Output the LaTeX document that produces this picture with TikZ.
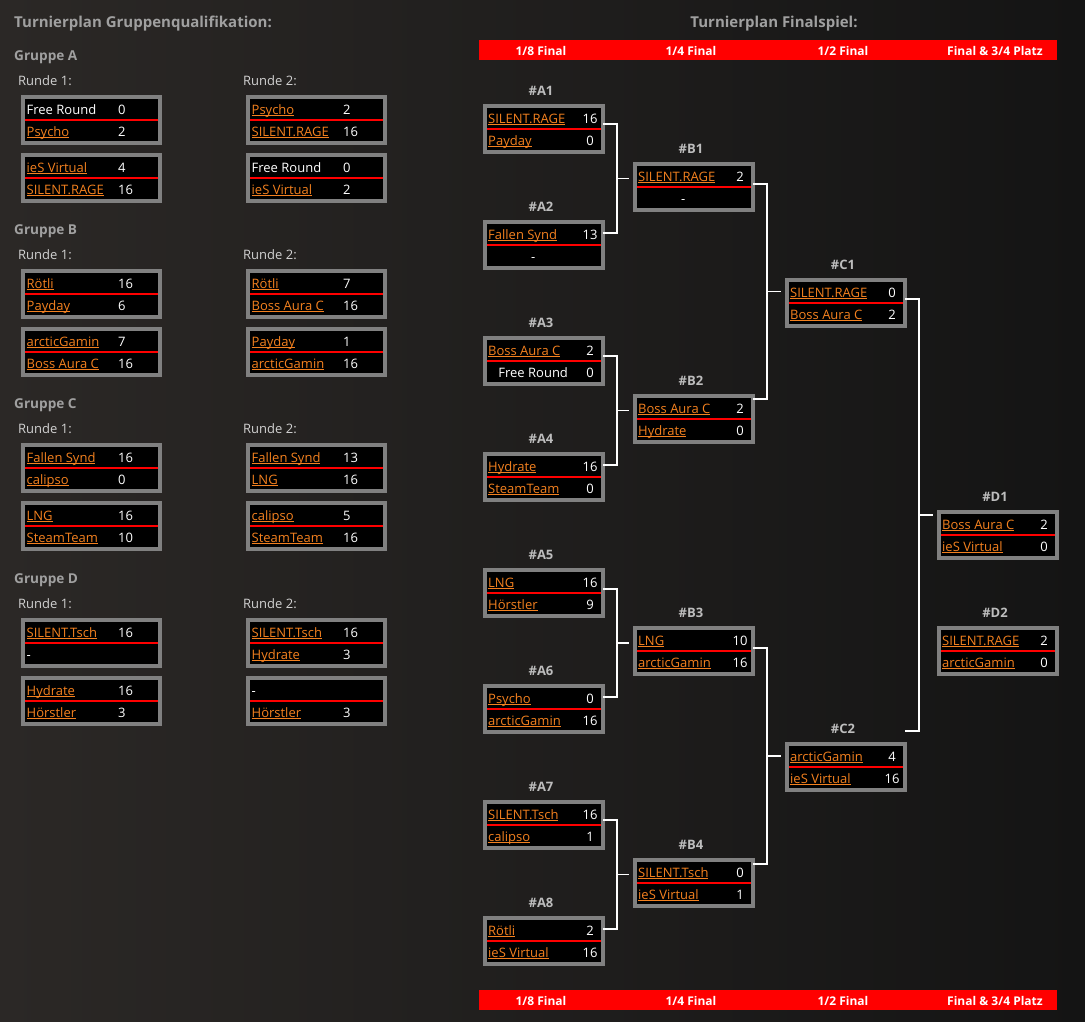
\documentclass[tikz,border=0pt]{standalone}
\usepackage{fontspec}
\setmainfont{Open Sans}
\usetikzlibrary{positioning, calc}

\definecolor{hglinks}{HTML}{2B2826}
\definecolor{hgrechts}{HTML}{141414}
\definecolor{rahmen}{HTML}{808080}
\definecolor{rot}{HTML}{FF0000}
\definecolor{linkorange}{HTML}{F4811F}
\definecolor{titelgrau}{HTML}{A0A0A0}
\definecolor{hellgrau}{HTML}{D2D2D2}
\definecolor{nummergrau}{HTML}{BDBDBD}

% team names are underlined links
\newcommand{\team}[1]{\textcolor{linkorange}{\setbox0\hbox{#1}\rlap{\rule[-2.3pt]{\wd0}{1pt}}\box0}}
\newcommand{\frei}[1]{\makebox[90pt]{#1}}

% name, left, top, team1, score1, team2, score2
\newcommand{\gruppenspiel}[7]{%
  \node[spiel, minimum width=137pt] (#1) at (#2+70.5,#3+25) {};
  \draw[trenner] ($(#1.west)+(4,0)$) -- ($(#1.east)+(-4,0)$);
  \node[mann, anchor=base west] (#1a) at (#2+5.5,#3+19) {#4};
  \node[zahl, anchor=base west] (#1b) at (#2+97,#3+19) {#5};
  \node[mann, anchor=base west] (#1c) at (#2+5.5,#3+41) {#6};
  \node[zahl, anchor=base west] (#1d) at (#2+97,#3+41) {#7};
}
\newcommand{\finalspiel}[7]{%
  \node[spiel, minimum width=118pt] (#1) at (#2+61,#3+25) {};
  \node[nummer, anchor=base] (#1h) at (#2+58,#3-9) {\##1};
  \draw[trenner] ($(#1.west)+(4,0)$) -- ($(#1.east)+(-4,0)$);
  \node[mann, anchor=base west] (#1a) at (#2+5,#3+19) {#4};
  \node[zahl, anchor=base] (#1b) at (#2+107,#3+19) {#5};
  \node[mann, anchor=base west] (#1c) at (#2+5,#3+41) {#6};
  \node[zahl, anchor=base] (#1d) at (#2+107,#3+41) {#7};
}
% upper match, offset, lower match, offset, next match
\newcommand{\verbinde}[5]{%
  \coordinate (#1k) at ($(#1.north east)+(12,#2)$);
  \coordinate (#3k) at ($(#3.north east)+(12,#4)$);
  \draw[linie] ($(#1.north east)+(-2,#2)$) -- (#1k) -- (#3k) -- ($(#3.north east)+(-2,#4)$);
  \coordinate (#5m) at ($(#1k)!.5!(#3k)$);
  \draw[linie, shorten >=4pt] (#5m) -- (#5m -| #5.west);
}

\begin{document}
\begin{tikzpicture}[x=1pt, y=-1pt, font=\fontsize{13pt}{15pt}\selectfont,
    spiel/.style={draw=rahmen, fill=black, line width=4pt, minimum height=46pt, inner sep=0pt, outer sep=2pt},
    trenner/.style={draw=rot, line width=2pt},
    mann/.style={inner sep=0pt, text=white},
    zahl/.style={inner sep=0pt, text=white},
    nummer/.style={inner sep=0pt, text=nummergrau, font=\fontsize{13pt}{15pt}\selectfont\bfseries},
    titel/.style={inner sep=0pt, text=titelgrau, font=\fontsize{15pt}{17pt}\selectfont\bfseries},
    gruppe/.style={inner sep=0pt, text=titelgrau, font=\fontsize{13.6pt}{16pt}\selectfont\bfseries},
    runde/.style={inner sep=0pt, text=hellgrau},
    balken/.style={fill=rot, minimum width=578pt, minimum height=20pt, inner sep=0pt},
    phase/.style={inner sep=0pt, text=white, font=\fontsize{12pt}{14pt}\selectfont\bfseries},
    linie/.style={draw=white, line width=1.1pt}]
  \shade[left color=hglinks, right color=hgrechts] (0,0) rectangle (1085,1021);
  \useasboundingbox (0,0) rectangle (1085,1021);

  % Gruppenqualifikation
  \node[titel, anchor=base west] (tgruppe) at (14,27.5) {Turnierplan Gruppenqualifikation:};

  \node[gruppe, anchor=base west] (gA) at (14,60.5) {Gruppe A};
  \node[runde, anchor=base west] (gA1) at (18,85.5) {Runde 1:};
  \node[runde, anchor=base west] (gA2) at (243,85.5) {Runde 2:};
  \gruppenspiel{qA11}{21}{95}{Free Round}{0}{\team{Psycho}}{2}
  \gruppenspiel{qA12}{21}{153}{\team{ieS Virtual}}{4}{\team{SILENT.RAGE}}{16}
  \gruppenspiel{qA21}{246}{95}{\team{Psycho}}{2}{\team{SILENT.RAGE}}{16}
  \gruppenspiel{qA22}{246}{153}{Free Round}{0}{\team{ieS Virtual}}{2}

  \node[gruppe, anchor=base west] (gB) at (14,234.5) {Gruppe B};
  \node[runde, anchor=base west] (gB1) at (18,259.5) {Runde 1:};
  \node[runde, anchor=base west] (gB2) at (243,259.5) {Runde 2:};
  \gruppenspiel{qB11}{21}{269}{\team{Rötli}}{16}{\team{Payday}}{6}
  \gruppenspiel{qB12}{21}{327}{\team{arcticGamin}}{7}{\team{Boss Aura C}}{16}
  \gruppenspiel{qB21}{246}{269}{\team{Rötli}}{7}{\team{Boss Aura C}}{16}
  \gruppenspiel{qB22}{246}{327}{\team{Payday}}{1}{\team{arcticGamin}}{16}

  \node[gruppe, anchor=base west] (gC) at (14,408.5) {Gruppe C};
  \node[runde, anchor=base west] (gC1) at (18,433.5) {Runde 1:};
  \node[runde, anchor=base west] (gC2) at (243,433.5) {Runde 2:};
  \gruppenspiel{qC11}{21}{443}{\team{Fallen Synd}}{16}{\team{calipso}}{0}
  \gruppenspiel{qC12}{21}{501}{\team{LNG}}{16}{\team{SteamTeam}}{10}
  \gruppenspiel{qC21}{246}{443}{\team{Fallen Synd}}{13}{\team{LNG}}{16}
  \gruppenspiel{qC22}{246}{501}{\team{calipso}}{5}{\team{SteamTeam}}{16}

  \node[gruppe, anchor=base west] (gD) at (14,583) {Gruppe D};
  \node[runde, anchor=base west] (gD1) at (18,608) {Runde 1:};
  \node[runde, anchor=base west] (gD2) at (243,608) {Runde 2:};
  \gruppenspiel{qD11}{21}{618}{\team{SILENT.Tsch}}{16}{-}{}
  \gruppenspiel{qD12}{21}{676}{\team{Hydrate}}{16}{\team{Hörstler}}{3}
  \gruppenspiel{qD21}{246}{618}{\team{SILENT.Tsch}}{16}{\team{Hydrate}}{3}
  \gruppenspiel{qD22}{246}{676}{-}{}{\team{Hörstler}}{3}

  % Finalspiel
  \node[titel, anchor=base] (tfinal) at (774,27.5) {Turnierplan Finalspiel:};
  \node[balken] (oben) at (768,50) {};
  \node[balken] (unten) at (768,1000) {};
  \node[phase, anchor=base] (o1) at (541,55) {1/8 Final};
  \node[phase, anchor=base] (o2) at (691,55) {1/4 Final};
  \node[phase, anchor=base] (o3) at (843,55) {1/2 Final};
  \node[phase, anchor=base] (o4) at (995,55) {Final \& 3/4 Platz};
  \node[phase, anchor=base] (u1) at (541,1005) {1/8 Final};
  \node[phase, anchor=base] (u2) at (691,1005) {1/4 Final};
  \node[phase, anchor=base] (u3) at (843,1005) {1/2 Final};
  \node[phase, anchor=base] (u4) at (995,1005) {Final \& 3/4 Platz};

  \finalspiel{A1}{483}{104}{\team{SILENT.RAGE}}{16}{\team{Payday}}{0}
  \finalspiel{A2}{483}{220}{\team{Fallen Synd}}{13}{\frei{-}}{}
  \finalspiel{A3}{483}{336}{\team{Boss Aura C}}{2}{\frei{Free Round}}{0}
  \finalspiel{A4}{483}{452}{\team{Hydrate}}{16}{\team{SteamTeam}}{0}
  \finalspiel{A5}{483}{568}{\team{LNG}}{16}{\team{Hörstler}}{9}
  \finalspiel{A6}{483}{684}{\team{Psycho}}{0}{\team{arcticGamin}}{16}
  \finalspiel{A7}{483}{800}{\team{SILENT.Tsch}}{16}{\team{calipso}}{1}
  \finalspiel{A8}{483}{916}{\team{Rötli}}{2}{\team{ieS Virtual}}{16}
  \finalspiel{B1}{633}{162}{\team{SILENT.RAGE}}{2}{\frei{-}}{}
  \finalspiel{B2}{633}{394}{\team{Boss Aura C}}{2}{\team{Hydrate}}{0}
  \finalspiel{B3}{633}{626}{\team{LNG}}{10}{\team{arcticGamin}}{16}
  \finalspiel{B4}{633}{858}{\team{SILENT.Tsch}}{0}{\team{ieS Virtual}}{1}
  \finalspiel{C1}{785}{278}{\team{SILENT.RAGE}}{0}{\team{Boss Aura C}}{2}
  \finalspiel{C2}{785}{742}{\team{arcticGamin}}{4}{\team{ieS Virtual}}{16}
  \finalspiel{D1}{937}{510}{\team{Boss Aura C}}{2}{\team{ieS Virtual}}{0}
  \finalspiel{D2}{937}{626}{\team{SILENT.RAGE}}{2}{\team{arcticGamin}}{0}

  \verbinde{A1}{20}{A2}{13}{B1}
  \verbinde{A3}{20}{A4}{13}{B2}
  \verbinde{A5}{21}{A6}{13}{B3}
  \verbinde{A7}{20}{A8}{13}{B4}
  \verbinde{B1}{22}{B2}{5}{C1}
  \verbinde{B3}{22}{B4}{6}{C2}
  \verbinde{C1}{21}{C2}{-11}{D1}
\end{tikzpicture}
\end{document}
